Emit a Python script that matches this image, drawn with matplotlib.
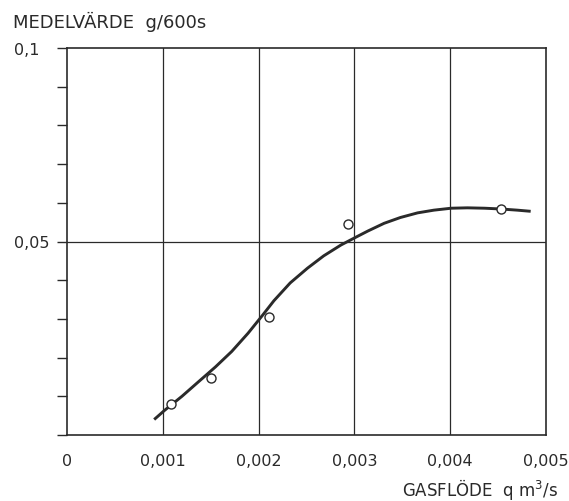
import matplotlib.pyplot as plt
from matplotlib.ticker import MultipleLocator

# Measured points (open circles)
flow_pts = [0.00109, 0.00150, 0.00211, 0.00293, 0.00453]
mean_pts = [0.0079, 0.0146, 0.0305, 0.0544, 0.0583]

# Hand-drawn trend curve
flow_curve = [0.00091, 0.00102, 0.00120, 0.00137, 0.00155, 0.00172, 0.00189, 0.00204,
              0.00216, 0.00233, 0.00251, 0.00268, 0.00286, 0.00303, 0.00314, 0.00331,
              0.00348, 0.00366, 0.00383, 0.00401, 0.00418, 0.00436, 0.00453, 0.00470,
              0.00484]
mean_curve = [0.0040, 0.0064, 0.0100, 0.0137, 0.0176, 0.0216, 0.0263, 0.0309,
              0.0347, 0.0393, 0.0431, 0.0463, 0.0491, 0.0513, 0.0527, 0.0547,
              0.0562, 0.0574, 0.0581, 0.0586, 0.0587, 0.0586, 0.0584, 0.0581,
              0.0578]

x_ticks = [0, 0.001, 0.002, 0.003, 0.004, 0.005]
x_labels = ['0', '0,001', '0,002', '0,003', '0,004', '0,005']
y_ticks = [0.05, 0.1]
y_labels = ['0,05', '0,1']

ink = '#2a2a2a'
plt.rcParams['font.family'] = 'DejaVu Sans'

fig = plt.figure(figsize=(5.69, 5.02), dpi=100)
ax = fig.add_axes([67 / 569, 66 / 502, 479 / 569, 387 / 502])

ax.set_xlim(0, 0.005)
ax.set_ylim(0, 0.1)

# grid lines at each x tick and at 0,05
for xv in x_ticks[1:-1]:
    ax.axvline(xv, color=ink, lw=0.9, zorder=1)
ax.axhline(0.05, color=ink, lw=0.9, zorder=1)

ax.plot(flow_curve, mean_curve, color=ink, lw=2.1, solid_capstyle='butt',
        solid_joinstyle='round', zorder=2)
ax.plot(flow_pts, mean_pts, 'o', ms=6.5, mfc='white', mec=ink, mew=1.0, zorder=3)

ax.set_xticks(x_ticks)
ax.set_xticklabels(x_labels, fontsize=11.5, color=ink)
ax.tick_params(axis='x', length=0, pad=13)

ax.set_yticks(y_ticks)
ax.set_yticklabels(y_labels, fontsize=11.5, color=ink)
ax.yaxis.set_minor_locator(MultipleLocator(0.01))
ax.tick_params(axis='y', which='both', direction='out', length=7, width=1.0, color=ink, pad=31)
for lab in ax.get_yticklabels():
    lab.set_ha('left')

for s in ax.spines.values():
    s.set_linewidth(1.2)
    s.set_color(ink)

fig.text(13 / 569, 1 - 22 / 502, 'MEDELVÄRDE  g/600s', fontsize=13, color=ink,
         ha='left', va='center')
fig.text(558 / 569, 1 - 490 / 502, r'GASFLÖDE  q m$^3$/s', fontsize=12, color=ink,
         ha='right', va='center')

fig.savefig('out.png', dpi=100)
